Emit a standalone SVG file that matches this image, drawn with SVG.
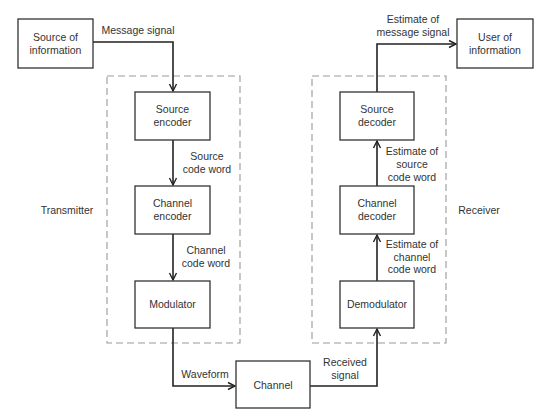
<svg xmlns="http://www.w3.org/2000/svg" width="557" height="420" viewBox="0 0 557 420">
<style>
.box{fill:#fff;stroke:#333;stroke-width:1.3}
.grp{fill:none;stroke:#999;stroke-width:1.1;stroke-dasharray:7,4}
.wire{fill:none;stroke:#222;stroke-width:1.6}
text{font-family:"Liberation Sans",Arial,sans-serif;font-size:10.5px;fill:#333;text-anchor:middle}
</style>
<defs>
<marker id="arr" markerWidth="10" markerHeight="10" refX="8" refY="5" orient="auto" markerUnits="userSpaceOnUse">
<path d="M1,1.5 L8,5 L1,8.5" fill="none" stroke="#222" stroke-width="1.4"/>
</marker>
</defs>
<rect fill="#fff" width="557" height="420"/>
<g id="transmitter">
<rect class="grp" x="107" y="76" width="133" height="267"/>
<text x="67" y="214">Transmitter</text>
</g>
<g id="receiver">
<rect class="grp" x="312" y="76" width="134" height="267"/>
<text x="479" y="214">Receiver</text>
</g>
<g id="connectors">
<path class="wire" d="M93,42 H173 V91" marker-end="url(#arr)"/>
<path class="wire" d="M173,140 V185" marker-end="url(#arr)"/>
<path class="wire" d="M173,234 V280" marker-end="url(#arr)"/>
<path class="wire" d="M173,328 V386 H235" marker-end="url(#arr)"/>
<path class="wire" d="M310,386 H377 V329" marker-end="url(#arr)"/>
<path class="wire" d="M377,281 V235" marker-end="url(#arr)"/>
<path class="wire" d="M377,186 V141" marker-end="url(#arr)"/>
<path class="wire" d="M377,92 V44 H456" marker-end="url(#arr)"/>
<text x="138" y="34">Message signal</text>
<text x="207" y="160">Source</text>
<text x="207" y="173">code word</text>
<text x="206" y="254">Channel</text>
<text x="206" y="267">code word</text>
<text x="205" y="378">Waveform</text>
<text x="345" y="366">Received</text>
<text x="345" y="379">signal</text>
<text x="412" y="155">Estimate of</text>
<text x="412" y="168">source</text>
<text x="412" y="181">code word</text>
<text x="412" y="248">Estimate of</text>
<text x="412" y="261">channel</text>
<text x="412" y="273">code word</text>
<text x="413" y="23">Estimate of</text>
<text x="413" y="36">message signal</text>
</g>
<g id="source-of-information">
<rect class="box" x="18" y="19" width="75" height="49"/>
<text x="55.5" y="41">Source of</text>
<text x="55.5" y="54">information</text>
</g>
<g id="source-encoder">
<rect class="box" x="135" y="92" width="75" height="48"/>
<text x="172.5" y="113">Source</text>
<text x="172.5" y="126">encoder</text>
</g>
<g id="channel-encoder">
<rect class="box" x="135" y="186" width="75" height="48"/>
<text x="172.5" y="207">Channel</text>
<text x="172.5" y="220">encoder</text>
</g>
<g id="modulator">
<rect class="box" x="135" y="281" width="75" height="47"/>
<text x="172.5" y="308">Modulator</text>
</g>
<g id="channel">
<rect class="box" x="236" y="361" width="74" height="47"/>
<text x="273" y="389">Channel</text>
</g>
<g id="demodulator">
<rect class="box" x="340" y="281" width="74" height="47"/>
<text x="377" y="308">Demodulator</text>
</g>
<g id="channel-decoder">
<rect class="box" x="340" y="186" width="74" height="48"/>
<text x="377" y="207">Channel</text>
<text x="377" y="220">decoder</text>
</g>
<g id="source-decoder">
<rect class="box" x="340" y="92" width="74" height="48"/>
<text x="377" y="113">Source</text>
<text x="377" y="126">decoder</text>
</g>
<g id="user-of-information">
<rect class="box" x="457" y="19" width="76" height="49"/>
<text x="495" y="41">User of</text>
<text x="495" y="54">information</text>
</g>
</svg>
